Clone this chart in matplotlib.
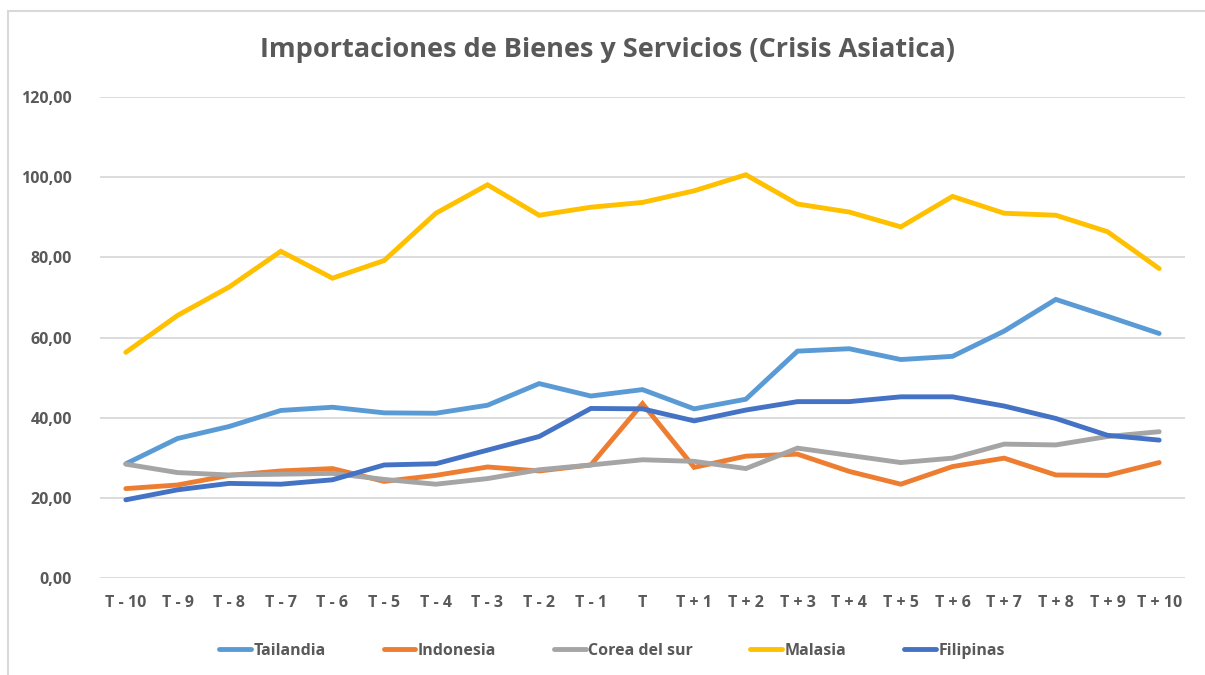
import matplotlib
matplotlib.use("Agg")
import matplotlib.pyplot as plt
from matplotlib.patches import Rectangle
from matplotlib.ticker import FuncFormatter

# periodos alrededor de la crisis
periodos = ['T - 10', 'T - 9', 'T - 8', 'T - 7', 'T - 6', 'T - 5', 'T - 4', 'T - 3', 'T - 2', 'T - 1', 'T',
            'T + 1', 'T + 2', 'T + 3', 'T + 4', 'T + 5', 'T + 6', 'T + 7', 'T + 8', 'T + 9', 'T + 10']

tailandia = [28.5, 34.8, 37.8, 41.8, 42.6, 41.2, 41.1, 43.1, 48.5, 45.4, 47.0,
             42.2, 44.6, 56.6, 57.2, 54.5, 55.3, 61.6, 69.5, 65.3, 61.0]
indonesia = [22.3, 23.2, 25.6, 26.7, 27.3, 24.1, 25.6, 27.7, 26.7, 28.2, 43.5,
             27.6, 30.4, 30.9, 26.6, 23.4, 27.8, 29.9, 25.7, 25.6, 28.8]
corea = [28.4, 26.3, 25.7, 25.9, 26.1, 24.6, 23.4, 24.8, 27.0, 28.2, 29.5,
         29.1, 27.3, 32.4, 30.6, 28.8, 29.9, 33.4, 33.2, 35.3, 36.5]
malasia = [56.3, 65.5, 72.6, 81.5, 74.8, 79.2, 91.0, 98.1, 90.5, 92.5, 93.7,
           96.6, 100.6, 93.3, 91.3, 87.6, 95.2, 91.0, 90.5, 86.4, 77.2]
filipinas = [19.5, 22.0, 23.6, 23.4, 24.5, 28.2, 28.5, 31.9, 35.3, 42.3, 42.2,
             39.2, 41.9, 44.0, 44.0, 45.2, 45.2, 42.9, 39.8, 35.6, 34.4]

series = [('Tailandia', tailandia, '#5B9BD5'),
          ('Indonesia', indonesia, '#ED7D31'),
          ('Corea del sur', corea, '#A5A5A5'),
          ('Malasia', malasia, '#FFC000'),
          ('Filipinas', filipinas, '#4472C4')]

gris = '#595959'
plt.rcParams['font.family'] = ['Open Sans', 'DejaVu Sans']

fig = plt.figure(figsize=(12.05, 6.75), dpi=100)
ax = fig.add_axes([100 / 1205, 1 - 578 / 675, 1085 / 1205, 481 / 675])

x = list(range(len(periodos)))
for nombre, valores, color in series:
    ax.plot(x, valores, color=color, lw=3.5, label=nombre, solid_capstyle='round', solid_joinstyle='miter')

ax.set_xlim(-0.5, len(periodos) - 0.5)
ax.set_ylim(0, 120)
ax.set_yticks(range(0, 121, 20))
ax.yaxis.set_major_formatter(FuncFormatter(lambda v, p: f'{v:.2f}'.replace('.', ',')))
ax.set_xticks(x)
ax.set_xticklabels(periodos)
ax.grid(axis='y', color='#D9D9D9', lw=1.3)
ax.set_axisbelow(True)
for s in ax.spines.values():
    s.set_visible(False)
ax.tick_params(length=0, labelsize=11.5, labelcolor=gris, pad=12)
ax.tick_params(axis='y', pad=20)
for t in ax.get_xticklabels() + ax.get_yticklabels():
    t.set_fontweight('bold')

fig.text(0.5045, 1 - 50 / 675, 'Importaciones de Bienes y Servicios (Crisis Asiatica)',
         ha='center', va='center', fontsize=19.5, color=gris, fontweight='bold')

leg = fig.legend(loc='center', bbox_to_anchor=(0.508, 1 - 651 / 675), ncol=5, frameon=False,
                 fontsize=11.5, handlelength=2.0, handletextpad=0.15, columnspacing=3.6)
for t in leg.get_texts():
    t.set_color(gris)
    t.set_fontweight('bold')

# borde del area del grafico
fig.patches.append(Rectangle((8 / 1205, -0.1), 1.2, 1.1 - 11 / 675, transform=fig.transFigure,
                             fill=False, edgecolor='#D9D9D9', lw=1.5))

fig.savefig('out.png', dpi=100)
